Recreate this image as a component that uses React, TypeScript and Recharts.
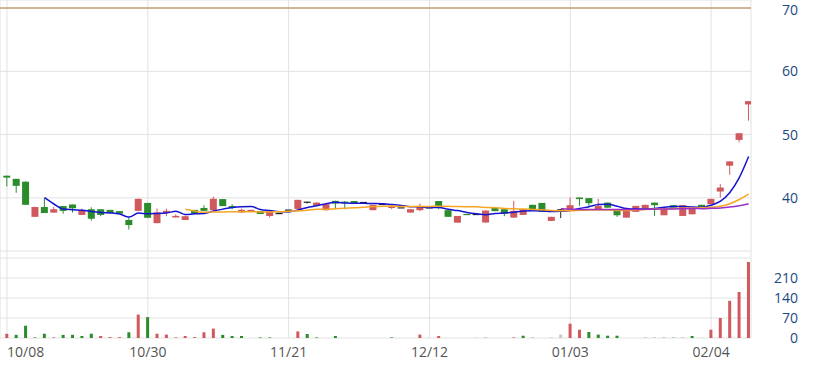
import { ComposedChart, Bar, Line, XAxis, YAxis, CartesianGrid, Cell, ReferenceLine } from "recharts"

// daily OHLC (index 0 = 10/08)
const opens = [
  43.5, 43.0, 42.55, 37.0, 38.55, 37.67, 38.7, 38.95, 37.3, 38.2,
  38.2, 38.1, 37.9, 36.5, 37.94, 39.2, 36.0, 37.6, 36.9, 36.5,
  38.1, 38.4, 38.05, 39.8, 38.7, 37.7, 37.8, 37.9, 37.14, 37.45,
  38.0, 38.25, 39.4, 38.73, 38.05, 39.52, 39.4, 39.5, 39.2, 38.05,
  38.9, 38.4, 38.35, 37.67, 38.05, 38.35, 39.5, 38.05, 36.08, 37.35,
  37.3, 36.1, 38.4, 38.2, 36.87, 37.3, 38.9, 39.2, 36.35, 38.2,
  37.94, 40.05, 39.95, 38.2, 39.25, 37.94, 36.87, 37.78, 38.2, 39.25,
  37.25, 38.84, 37.14, 37.4, 38.9, 39.0, 41.0, 45.08, 49.16, 54.76,
]
const highs = [
  43.5, 43.0, 42.6, 38.6, 40.0, 38.57, 38.7, 38.95, 38.3, 38.5,
  38.2, 38.1, 37.9, 36.9, 39.9, 39.2, 38.3, 38.3, 37.4, 37.2,
  38.1, 38.8, 40.2, 39.8, 39.0, 38.3, 38.1, 37.9, 37.9, 37.45,
  38.0, 39.7, 39.4, 39.3, 39.0, 39.55, 39.5, 39.5, 39.2, 38.9,
  38.9, 38.9, 38.35, 38.2, 39.1, 38.35, 39.5, 38.05, 37.14, 37.35,
  37.3, 38.0, 38.4, 38.2, 39.52, 38.2, 38.9, 39.2, 37.0, 38.2,
  40.05, 40.05, 39.95, 39.84, 39.25, 37.94, 37.94, 38.73, 38.9, 39.25,
  38.2, 38.84, 38.84, 38.45, 38.9, 39.84, 42.17, 45.8, 50.21, 55.3,
]
const lows = [
  41.8, 40.8, 38.9, 37.0, 37.6, 37.67, 37.5, 37.67, 37.3, 36.4,
  37.1, 37.6, 37.5, 35.0, 37.9, 36.85, 36.0, 37.1, 36.9, 36.5,
  37.5, 37.95, 38.05, 38.7, 38.2, 37.6, 37.8, 37.45, 36.9, 37.45,
  38.0, 37.78, 39.1, 38.7, 38.0, 38.2, 38.2, 39.1, 39.2, 38.05,
  38.9, 38.2, 38.35, 37.67, 37.9, 38.35, 38.2, 37.0, 36.08, 37.3,
  37.3, 36.1, 37.9, 37.1, 36.87, 37.3, 38.2, 37.8, 36.35, 36.8,
  37.94, 38.73, 38.73, 38.2, 38.45, 37.0, 36.87, 37.78, 38.2, 37.14,
  37.25, 38.45, 37.14, 37.4, 38.4, 39.0, 40.05, 43.65, 48.78, 52.2,
]
const closes = [
  43.2, 41.9, 38.9, 38.55, 37.6, 38.2, 37.94, 38.35, 38.1, 36.7,
  37.3, 37.6, 37.5, 35.7, 39.84, 36.85, 37.7, 37.95, 37.15, 37.1,
  37.5, 37.95, 39.85, 38.7, 38.4, 38.1, 38.1, 37.45, 37.9, 37.45,
  38.0, 39.68, 39.4, 39.25, 39.0, 39.1, 39.25, 39.1, 39.2, 38.9,
  38.9, 38.65, 38.35, 38.2, 38.73, 38.35, 38.7, 37.0, 37.14, 37.3,
  37.3, 38.0, 37.9, 37.5, 37.94, 38.2, 38.2, 37.8, 37.0, 38.2,
  38.84, 39.8, 39.16, 38.73, 38.45, 37.25, 37.94, 38.73, 38.9, 38.84,
  38.2, 38.45, 38.84, 38.45, 38.6, 39.84, 41.63, 45.76, 50.21, 55.29,
]
const volumes = [
  15, 11, 43, 2, 15, 2, 11, 11, 7, 15,
  7, 3, 3, 20, 82, 73, 15, 12, 2, 7,
  3, 20, 33, 11, 7, 7, 0, 2, 2, 0,
  0, 23, 14, 2, 0, 7, 0, 0, 0, 0,
  0, 2, 0, 0, 12, 0, 7, 0, 0, 0,
  1, 1, 0, 0, 2, 8, 1, 0, 2, 12,
  50, 29, 21, 12, 8, 8, 0, 0, 1, 3,
  1, 1, 1, 7, 1, 29, 70, 130, 161, 266,
]
// volume bar colour: r = up, g = down, n = unchanged
const volDir = [
  "r", "g", "g", "g", "g", "r", "g", "g", "g", "g",
  "r", "r", "r", "g", "r", "g", "r", "r", "r", "r",
  "r", "r", "r", "g", "g", "g", "n", "g", "g", "n",
  "n", "r", "g", "g", "n", "g", "n", "n", "n", "n",
  "n", "g", "n", "n", "r", "n", "r", "n", "n", "n",
  "n", "r", "n", "n", "r", "g", "r", "n", "n", "n",
  "r", "r", "g", "g", "g", "g", "n", "n", "r", "n",
  "g", "g", "r", "g", "n", "r", "r", "r", "r", "r",
]

const tickIdx = [0, 15, 30, 45, 60, 75]
const tickLabels = ["10/08", "10/30", "11/21", "12/12", "01/03", "02/04"]
const priceTicks = [40, 50, 60, 70]
const volTicks = [0, 70, 140, 210, 280]

const RED = "#d0595d"
const GREEN = "#2a8c2a"
const FLAT = "#222222"
const GRAY = "#c8c8c8"
const GRID = "#e2e2e2"
const AXIS_TEXT = "#1b4a80"
const FONT = "'Open Sans', sans-serif"

function movingAvg(n: number) {
  return closes.map((_, i) => {
    if (i < n - 1) return null
    let s = 0
    for (let k = i - n + 1; k <= i; k++) s += closes[k]
    return s / n
  })
}

const ma5 = movingAvg(5)
const ma20 = movingAvg(20)
const ma60 = movingAvg(60)

const rows = closes.map((c, i) => ({
  i,
  o: opens[i],
  h: highs[i],
  l: lows[i],
  c,
  range: [lows[i], highs[i]],
  vol: volumes[i],
  ma5: ma5[i],
  ma20: ma20[i],
  ma60: ma60[i],
}))

const xDomain = [-0.745, 79.25]

function Candle(props: any) {
  const { x, y, width, height, payload } = props
  if (x == null || y == null) return null
  const { o, c, h, l } = payload
  const span = h - l
  const py = (v: number) => (span > 0 ? y + ((h - v) / span) * height : y)
  const color = c > o ? RED : c < o ? GREEN : FLAT
  const cx = x + width / 2
  const top = py(Math.max(o, c))
  const bot = py(Math.min(o, c))
  return (
    <g>
      {span > 0 && <line x1={cx} x2={cx} y1={y} y2={y + height} stroke={color} strokeWidth={1} />}
      <rect x={x} y={top} width={width} height={Math.max(bot - top, 1.2)} fill={color} />
    </g>
  )
}

function PriceTick({ y, payload }: any) {
  // the top label sits right at the edge, nudge it down a little
  const dy = payload.value === 70 ? 7 : 5
  return (
    <text x={798} y={y} dy={dy} textAnchor="end" fill={AXIS_TEXT} fontSize={14} fontFamily={FONT}>
      {payload.value}
    </text>
  )
}

function VolTick({ y, payload }: any) {
  if (payload.value === 280) return <g />
  return (
    <text x={798} y={y} dy={5} textAnchor="end" fill={AXIS_TEXT} fontSize={14} fontFamily={FONT}>
      {payload.value}
    </text>
  )
}

function DateTick({ x, y, payload }: any) {
  const k = tickIdx.indexOf(payload.value)
  return (
    <text x={x} y={y} dy={11} textAnchor={k === 0 ? "start" : "middle"} fill="#555" fontSize={14} fontFamily={FONT}>
      {tickLabels[k]}
    </text>
  )
}

export default function App() {
  return (
    <div style={{ position: "absolute", left: 0, top: 0, width: 813, height: 365, background: "#fff" }}>
      <div style={{ position: "absolute", left: 0, top: 0 }}>
        <ComposedChart width={813} height={251} data={rows} margin={{ top: 0, right: 0, left: 0, bottom: 0 }}>
          <CartesianGrid stroke={GRID} />
          <XAxis type="number" dataKey="i" domain={xDomain} ticks={tickIdx} interval={0} allowDataOverflow hide />
          <YAxis
            orientation="right"
            width={62}
            domain={[31.6, 71.27]}
            ticks={priceTicks}
            interval={0}
            allowDataOverflow
            axisLine={false}
            tickLine={false}
            tick={<PriceTick />}
          />
          <ReferenceLine y={70} stroke="#c4a07a" strokeWidth={1.5} />
          <Bar dataKey="range" barSize={7} minPointSize={1} shape={<Candle />} isAnimationActive={false} />
          <Line dataKey="ma5" type="monotone" stroke="#1414d2" strokeWidth={1.5} dot={false} isAnimationActive={false} />
          <Line dataKey="ma20" type="monotone" stroke="#f5a623" strokeWidth={1.5} dot={false} isAnimationActive={false} />
          <Line dataKey="ma60" type="monotone" stroke="#9b2fc9" strokeWidth={1.5} dot={false} isAnimationActive={false} />
        </ComposedChart>
      </div>
      <div style={{ position: "absolute", left: 0, top: 251 }}>
        <ComposedChart width={813} height={114} data={rows} margin={{ top: 0, right: 0, left: 0, bottom: 0 }}>
          <CartesianGrid stroke={GRID} />
          <XAxis
            type="number"
            dataKey="i"
            domain={xDomain}
            ticks={tickIdx}
            interval={0}
            allowDataOverflow
            height={27}
            axisLine={false}
            tickLine={false}
            tick={<DateTick />}
          />
          <YAxis
            orientation="right"
            width={62}
            domain={[0, 304.5]}
            ticks={volTicks}
            interval={0}
            allowDataOverflow
            axisLine={false}
            tickLine={false}
            tick={<VolTick />}
          />
          <Bar dataKey="vol" barSize={3} isAnimationActive={false}>
            {rows.map((r, i) => (
              <Cell key={i} fill={volDir[i] === "r" ? RED : volDir[i] === "g" ? GREEN : GRAY} />
            ))}
          </Bar>
        </ComposedChart>
      </div>
    </div>
  )
}
